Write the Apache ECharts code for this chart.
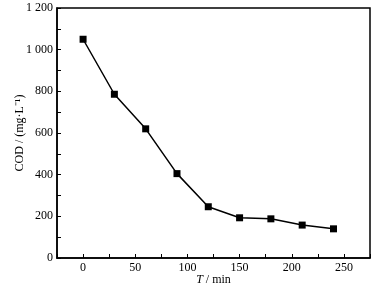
<!DOCTYPE html>
<html>
<head>
<meta charset="utf-8">
<script src="https://cdn.jsdelivr.net/npm/echarts@6/dist/echarts.min.js"></script>
<style>
  html, body { margin: 0; padding: 0; background: #fff; }
  #main { width: 380px; height: 287px; }
</style>
</head>
<body>
<div id="main"></div>
<script>
// 反应时间 (min) 与 COD (mg/L)
var times = [0, 30, 60, 90, 120, 150, 180, 210, 240];
var cod = [1050, 786, 620, 405, 246, 193, 188, 158, 140];

var font = '"Liberation Serif", "Times New Roman", serif';

var chart = echarts.init(document.getElementById('main'));
chart.setOption({
  animation: false,
  grid: {
    left: 57,
    top: 8,
    right: 10,
    bottom: 29,
    outerBoundsMode: 'none',
    containLabel: false,
    show: true,
    borderColor: '#000',
    borderWidth: 1.5,
    backgroundColor: 'transparent'
  },
  xAxis: {
    type: 'value',
    min: -25,
    max: 275,
    interval: 25,
    name: '{it|T} / min',
    nameLocation: 'middle',
    nameGap: 16,
    nameMoveOverlap: false,
    nameTextStyle: {
      color: '#000',
      fontFamily: font,
      fontSize: 12,
      rich: {
        it: { fontStyle: 'italic', fontFamily: font, fontSize: 12, color: '#000' }
      }
    },
    axisLine: { show: true, onZero: false, lineStyle: { color: '#000', width: 1.5 } },
    axisTick: { show: true, inside: true, length: 4, lineStyle: { color: '#000', width: 1 } },
    splitLine: { show: false },
    axisLabel: {
      color: '#000',
      fontFamily: font,
      fontSize: 12,
      margin: 4,
      formatter: function (v) {
        return (v >= 0 && v % 50 === 0) ? String(v) : '';
      }
    }
  },
  yAxis: {
    type: 'value',
    min: 0,
    max: 1200,
    interval: 100,
    name: 'COD / (mg·L⁻¹)',
    nameLocation: 'middle',
    nameRotate: 90,
    nameGap: 31,
    nameMoveOverlap: false,
    nameTextStyle: { color: '#000', fontFamily: font, fontSize: 12 },
    axisLine: { show: true, onZero: false, lineStyle: { color: '#000', width: 1.5 } },
    axisTick: { show: true, inside: true, length: 4, lineStyle: { color: '#000', width: 1 } },
    splitLine: { show: false },
    axisLabel: {
      color: '#000',
      fontFamily: font,
      fontSize: 12,
      margin: 4,
      formatter: function (v) {
        if (v % 200 !== 0) return '';
        var s = String(v);
        return s.length > 3 ? s.slice(0, s.length - 3) + ' ' + s.slice(-3) : s;
      }
    }
  },
  series: [{
    type: 'line',
    data: times.map(function (t, i) { return [t, cod[i]]; }),
    symbol: 'rect',
    symbolSize: 7,
    lineStyle: { color: '#000', width: 1.5 },
    itemStyle: { color: '#000' }
  }]
});
</script>
</body>
</html>
